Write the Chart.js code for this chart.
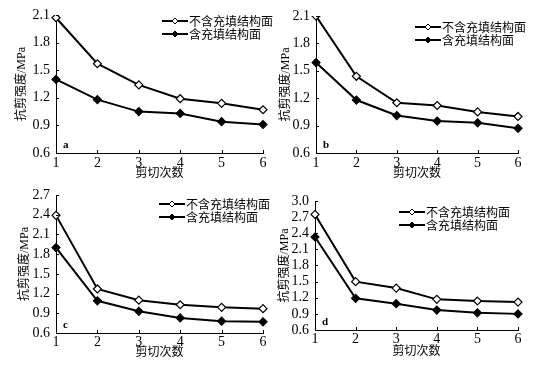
<!DOCTYPE html>
<html lang="zh">
<head>
<meta charset="UTF-8">
<title>剪切次数与抗剪强度</title>
<script src="https://cdn.jsdelivr.net/npm/chart.js"></script>
<style>
    body { margin: 0; background: #fff; }
    #wrap { position: relative; width: 547px; height: 367px; }
    #wrap canvas { position: absolute; }
</style>
</head>
<body>
<div id="wrap">
    <canvas id="chartA"></canvas>
    <canvas id="chartB"></canvas>
    <canvas id="chartC"></canvas>
    <canvas id="chartD"></canvas>
</div>
<script>
// data
const shearCount = ['1', '2', '3', '4', '5', '6'];
const seriesNames = ['不含充填结构面', '含充填结构面'];

const aUnfilled = [2.07, 1.57, 1.34, 1.19, 1.14, 1.07];
const aFilled   = [1.40, 1.18, 1.05, 1.03, 0.94, 0.91];
const bUnfilled = [2.10, 1.44, 1.15, 1.12, 1.05, 1.00];
const bFilled   = [1.59, 1.18, 1.01, 0.95, 0.93, 0.87];
const cUnfilled = [2.39, 1.27, 1.10, 1.03, 0.99, 0.97];
const cFilled   = [1.90, 1.09, 0.93, 0.83, 0.78, 0.77];
const dUnfilled = [2.75, 1.50, 1.38, 1.17, 1.14, 1.12];
const dFilled   = [2.33, 1.19, 1.09, 0.97, 0.92, 0.90];

const yTicksAB = [0.6, 0.9, 1.2, 1.5, 1.8, 2.1];
const yTicksC  = [0.6, 0.9, 1.2, 1.5, 1.8, 2.1, 2.4, 2.7];
const yTicksD  = [0.6, 0.9, 1.2, 1.5, 1.8, 2.1, 2.4, 2.7, 3.0];

const xTitle = '剪切次数';
const yTitle = '抗剪强度/MPa';

const serif = '"Liberation Serif", "Noto Sans CJK SC", serif';

// inward tick marks, legend with line+marker, panel letter
const panelDecor = {
    id: 'panelDecor',
    afterDraw(chart, args, opts) {
        const ctx = chart.ctx;
        const area = chart.chartArea;
        const xs = chart.scales.x, ys = chart.scales.y;
        ctx.save();
        ctx.strokeStyle = '#000';
        ctx.lineWidth = 1;
        xs.ticks.forEach((t, i) => {
            const px = Math.round(xs.getPixelForTick(i)) + 0.5;
            ctx.beginPath();
            ctx.moveTo(px, area.bottom);
            ctx.lineTo(px, area.bottom - 3);
            ctx.stroke();
        });
        ys.ticks.forEach(t => {
            const py = Math.round(ys.getPixelForValue(t.value)) + 0.5;
            ctx.beginPath();
            ctx.moveTo(area.left, py);
            ctx.lineTo(area.left + 3, py);
            ctx.stroke();
        });

        // legend
        const lx = area.right - opts.legendRight;
        chart.data.datasets.forEach((ds, i) => {
            const ly = area.top + opts.legendTop + i * 13;
            ctx.lineWidth = 2;
            ctx.beginPath();
            ctx.moveTo(lx, ly);
            ctx.lineTo(lx + 26, ly);
            ctx.stroke();
            const mx = lx + 13, r = 3;
            ctx.beginPath();
            ctx.moveTo(mx, ly - r);
            ctx.lineTo(mx + r, ly);
            ctx.lineTo(mx, ly + r);
            ctx.lineTo(mx - r, ly);
            ctx.closePath();
            ctx.fillStyle = ds.backgroundColor;
            ctx.fill();
            ctx.lineWidth = 1;
            ctx.stroke();
            ctx.fillStyle = '#000';
            ctx.font = '12px "Noto Sans CJK SC", sans-serif';
            ctx.textBaseline = 'middle';
            ctx.textAlign = 'left';
            ctx.fillText(ds.label, lx + 27, ly);
        });

        ctx.font = 'bold 11px ' + serif;
        ctx.textBaseline = 'middle';
        ctx.fillText(opts.letter, area.left + 7, area.bottom - 8);
        ctx.restore();
    }
};

function makePanel(id, box, unfilled, filled, yTicks, letter) {
    const cv = document.getElementById(id);
    cv.width = box.w;
    cv.height = box.h;
    cv.style.left = box.x + 'px';
    cv.style.top = box.y + 'px';

    return new Chart(cv, {
        type: 'line',
        data: {
            labels: shearCount,
            datasets: [
                {
                    label: seriesNames[0],
                    data: unfilled,
                    borderColor: '#000',
                    backgroundColor: '#fff',
                    borderWidth: 2,
                    pointStyle: 'rectRot',
                    pointRadius: 4,
                    pointBorderWidth: 1.2,
                    tension: 0
                },
                {
                    label: seriesNames[1],
                    data: filled,
                    borderColor: '#000',
                    backgroundColor: '#000',
                    borderWidth: 2,
                    pointStyle: 'rectRot',
                    pointRadius: 4,
                    pointBorderWidth: 1.2,
                    tension: 0
                }
            ]
        },
        options: {
            responsive: false,
            animation: false,
            devicePixelRatio: 1,
            layout: {
                padding: { left: 0, bottom: 0, top: box.top, right: box.w - box.right }
            },
            plugins: {
                legend: { display: false },
                tooltip: { enabled: false },
                panelDecor: { letter: letter, legendRight: box.legRight, legendTop: box.legTop }
            },
            scales: {
                x: {
                    offset: false,
                    grid: { drawOnChartArea: false, drawTicks: false },
                    border: { color: '#000', width: 1 },
                    ticks: {
                        color: '#000', padding: box.xPad, maxRotation: 0, autoSkip: false,
                        font: { family: serif, size: 14, lineHeight: 1 }
                    },
                    title: {
                        display: true, text: xTitle, color: '#000',
                        font: { family: serif, size: 12 },
                        padding: { top: 0, bottom: box.xTitlePad }
                    },
                    afterFit: s => { s.height = box.h - box.bottom; }
                },
                y: {
                    min: yTicks[0],
                    max: yTicks[yTicks.length - 1],
                    grid: { drawOnChartArea: false, drawTicks: false },
                    border: { color: '#000', width: 1 },
                    afterBuildTicks: s => { s.ticks = yTicks.map(v => ({ value: v })); },
                    ticks: {
                        color: '#000', padding: 6, autoSkip: false,
                        font: { family: serif, size: 14, lineHeight: 1 },
                        callback: v => Number(v).toFixed(1)
                    },
                    title: {
                        display: true, text: yTitle, color: '#000',
                        font: { family: serif, size: 12 },
                        padding: { top: box.yTitlePad, bottom: 0 }
                    },
                    afterFit: s => { s.width = box.left; }
                }
            }
        },
        plugins: [panelDecor]
    });
}

makePanel('chartA',
    { x: 0, y: 0, w: 273, h: 182, left: 56, right: 263, top: 15, bottom: 153,
      xPad: 3, xTitlePad: 1, yTitlePad: 15, legRight: 101, legTop: 6 },
    aUnfilled, aFilled, yTicksAB, 'a');
makePanel('chartB',
    { x: 273, y: 0, w: 274, h: 182, left: 43, right: 245, top: 16, bottom: 153,
      xPad: 3, xTitlePad: 1, yTitlePad: 6, legRight: 103, legTop: 11 },
    bUnfilled, bFilled, yTicksAB, 'b');
makePanel('chartC',
    { x: 0, y: 182, w: 273, h: 185, left: 56, right: 263, top: 13, bottom: 151,
      xPad: 2, xTitlePad: 7, yTitlePad: 18, legRight: 104, legTop: 9 },
    cUnfilled, cFilled, yTicksC, 'c');
makePanel('chartD',
    { x: 273, y: 182, w: 274, h: 185, left: 42, right: 245, top: 19, bottom: 148,
      xPad: 2, xTitlePad: 8, yTitlePad: 5, legRight: 119, legTop: 11 },
    dUnfilled, dFilled, yTicksD, 'd');
</script>
</body>
</html>
